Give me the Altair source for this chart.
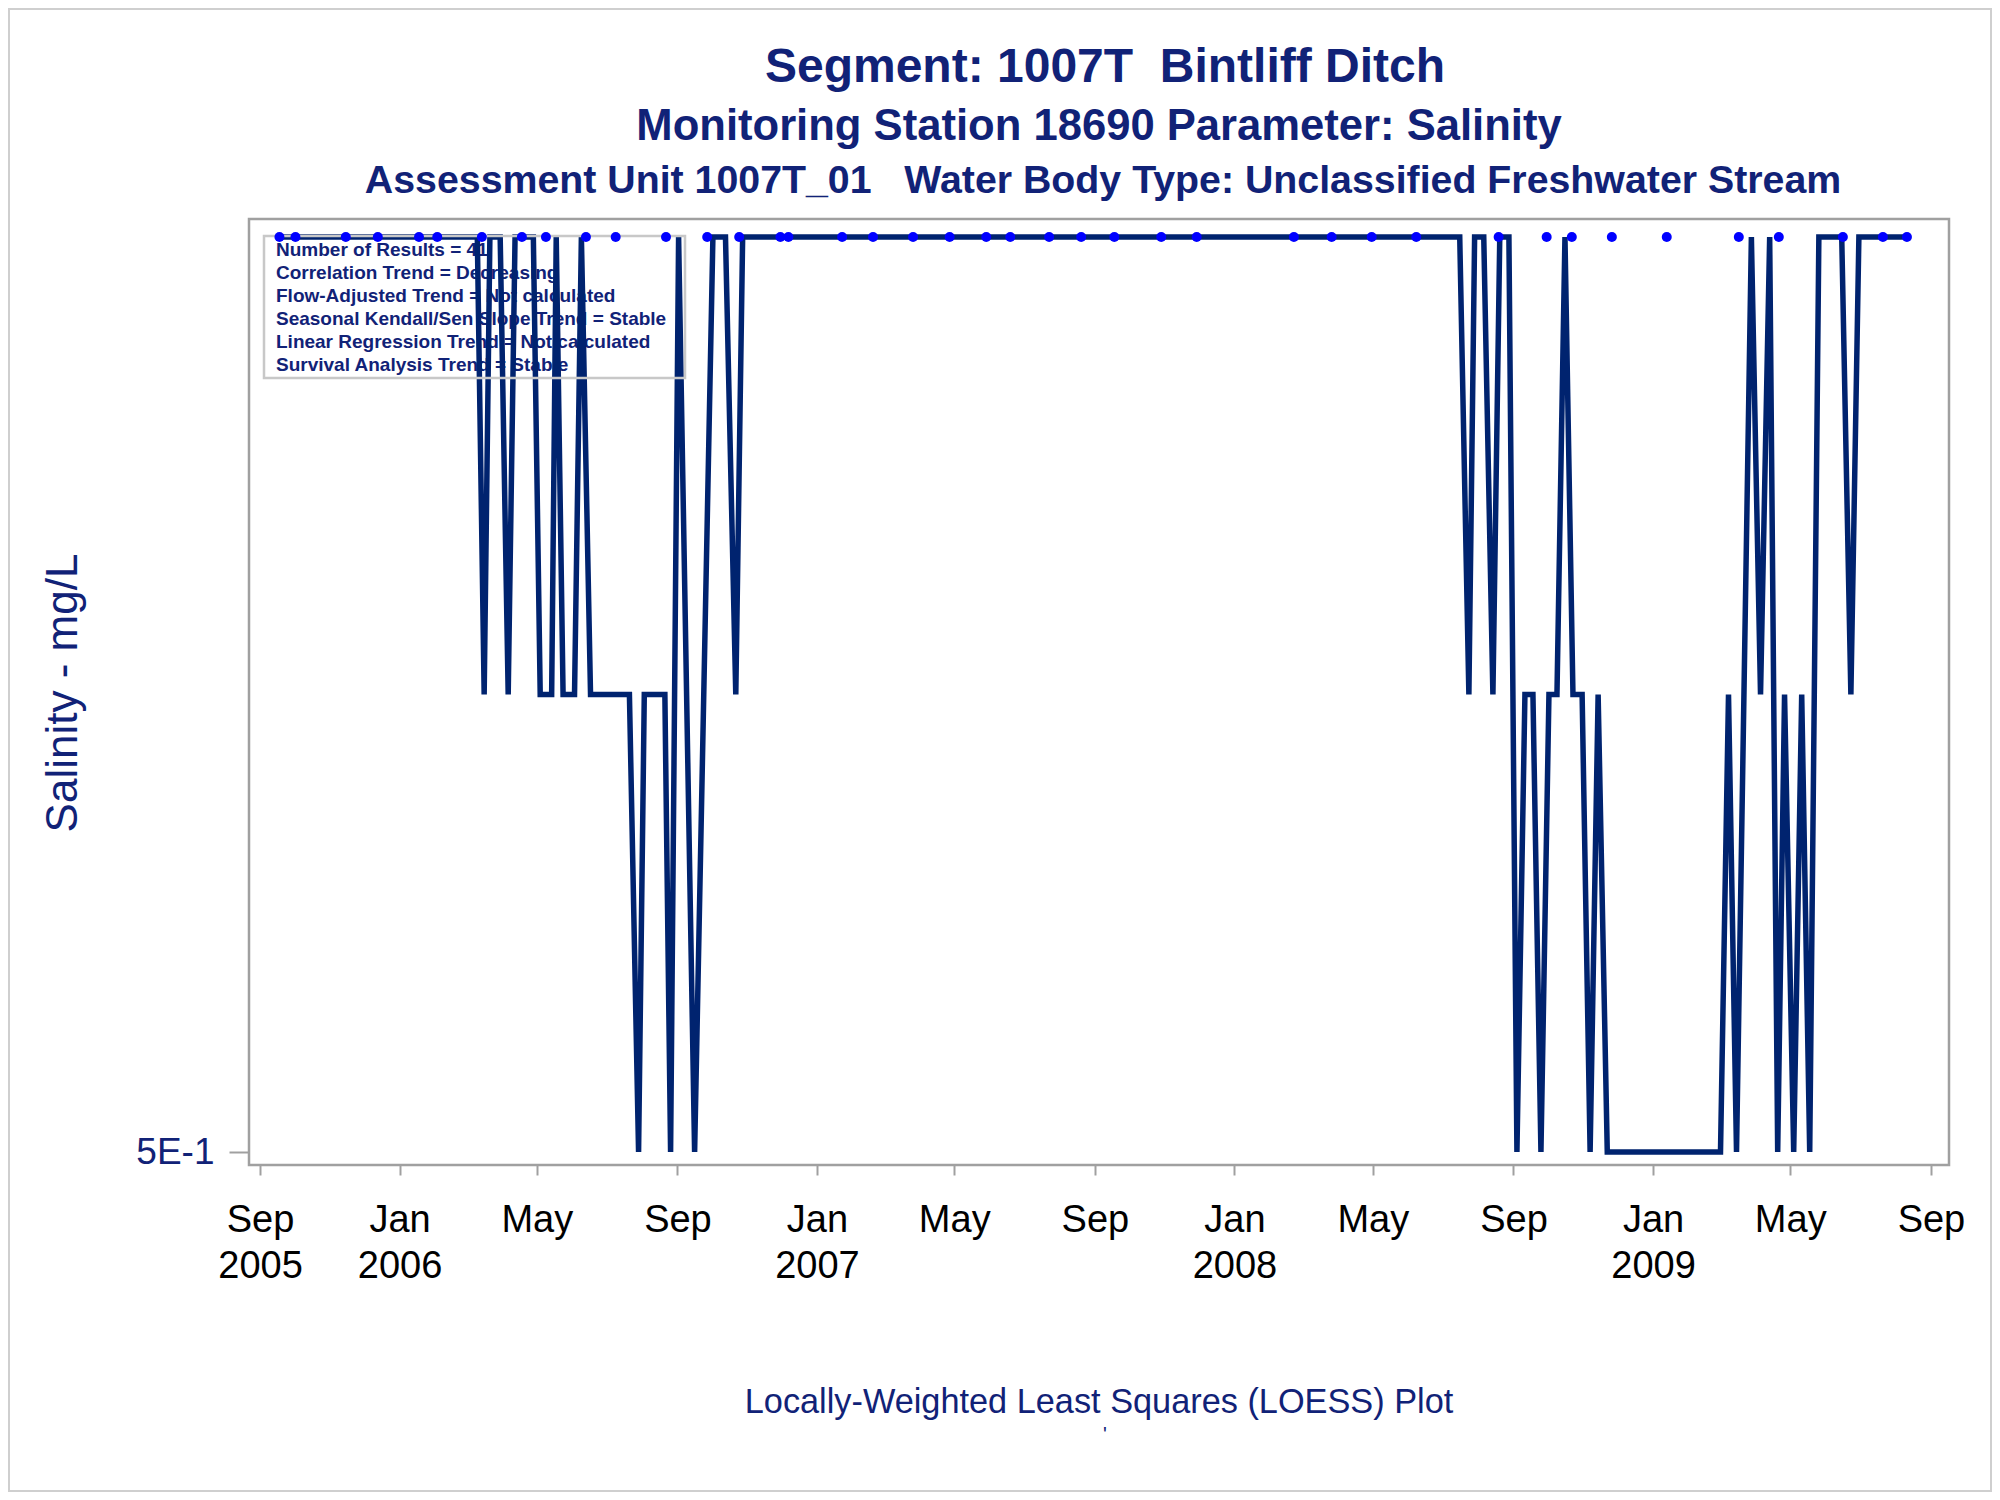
import altair as alt
import pandas as pd

# ---------------- data ----------------
title_lines = [
    "Segment: 1007T\u00a0\u00a0Bintliff Ditch",
    "Monitoring Station 18690 Parameter: Salinity",
    "Assessment Unit 1007T_01\u00a0\u00a0\u00a0Water Body Type: Unclassified Freshwater Stream",
]
stats_lines = [
    "Number of Results = 41",
    "Correlation Trend = Decreasing",
    "Flow-Adjusted Trend = Not calculated",
    "Seasonal Kendall/Sen Slope Trend = Stable",
    "Linear Regression Trend = Not calculated",
    "Survival Analysis Trend = Stable",
]
y_title = "Salinity - mg/L"
footnote = "Locally-Weighted Least Squares (LOESS) Plot"
footnote2 = "'"

# sampled results (blue dots)
sample_dates = [
    "2005-09-18", "2005-10-02", "2005-11-15", "2005-12-13", "2006-01-18",
    "2006-02-03", "2006-03-14", "2006-04-18", "2006-05-09", "2006-06-13",
    "2006-07-09", "2006-08-22", "2006-09-27", "2006-10-25", "2006-11-30",
    "2006-12-07", "2007-01-23", "2007-02-19", "2007-03-26", "2007-04-27",
    "2007-05-29", "2007-06-19", "2007-07-23", "2007-08-20", "2007-09-18",
    "2007-10-29", "2007-11-29", "2008-02-22", "2008-03-26", "2008-04-30",
    "2008-06-08", "2008-08-19", "2008-09-30", "2008-10-22", "2008-11-26",
    "2009-01-13", "2009-03-17", "2009-04-21", "2009-06-16", "2009-07-21",
    "2009-08-11",
]
sample_values = [
    1.0, 1.0, 1.0, 1.0, 1.0, 1.0, 1.0, 1.0, 1.0, 1.0,
    1.0, 1.0, 1.0, 1.0, 1.0, 1.0, 1.0, 1.0, 1.0, 1.0,
    1.0, 1.0, 1.0, 1.0, 1.0, 1.0, 1.0, 1.0, 1.0, 1.0,
    1.0, 1.0, 1.0, 1.0, 1.0, 1.0, 1.0, 1.0, 1.0, 1.0,
    1.0,
]

# LOESS curve vertices
loess_dates = [
    "2005-09-18", "2006-03-10", "2006-03-16", "2006-03-21", "2006-03-30",
    "2006-04-06", "2006-04-12", "2006-04-28", "2006-05-04", "2006-05-14",
    "2006-05-18", "2006-05-24", "2006-06-03", "2006-06-09", "2006-06-17",
    "2006-07-21", "2006-07-29", "2006-08-03", "2006-08-21", "2006-08-26",
    "2006-09-02", "2006-09-16", "2006-10-02", "2006-10-13", "2006-10-22",
    "2006-10-28", "2008-07-16", "2008-07-24", "2008-07-29", "2008-08-06",
    "2008-08-14", "2008-08-20", "2008-08-28", "2008-09-04", "2008-09-11",
    "2008-09-18", "2008-09-25", "2008-10-02", "2008-10-09", "2008-10-16",
    "2008-10-23", "2008-10-31", "2008-11-07", "2008-11-14", "2008-11-22",
    "2009-03-01", "2009-03-08", "2009-03-15", "2009-03-28", "2009-04-05",
    "2009-04-13", "2009-04-20", "2009-04-26", "2009-05-04", "2009-05-11",
    "2009-05-18", "2009-05-26", "2009-06-15", "2009-06-23", "2009-06-30",
    "2009-08-11",
]
loess_values = [
    1.0, 1.0, 0.75, 1.0, 1.0,
    0.75, 1.0, 1.0, 0.75, 0.75,
    1.0, 0.75, 0.75, 1.0, 0.75,
    0.75, 0.5, 0.75, 0.75, 0.5,
    1.0, 0.5, 1.0, 1.0, 0.75,
    1.0, 1.0, 0.75, 1.0, 1.0,
    0.75, 1.0, 1.0, 0.5, 0.75,
    0.75, 0.5, 0.75, 0.75, 1.0,
    0.75, 0.75, 0.5, 0.75, 0.5,
    0.5, 0.75, 0.5, 1.0, 0.75,
    1.0, 0.5, 0.75, 0.5, 0.75,
    0.5, 1.0, 1.0, 0.75, 1.0,
    1.0,
]

y_tick_values = [0.5]
x_tick_dates = [
    (2005, 9), (2006, 1), (2006, 5), (2006, 9), (2007, 1), (2007, 5), (2007, 9),
    (2008, 1), (2008, 5), (2008, 9), (2009, 1), (2009, 5), (2009, 9),
]

# ---------------- styling ----------------
FONT = "Liberation Sans"
NAVY = "#112277"
LINE = "#00236f"
DOT = "#0000ff"
FRAME = "#a0a0a0"
W, H = 1700, 946

line_df = pd.DataFrame({"date": loess_dates, "value": loess_values})
pts_df = pd.DataFrame({"date": sample_dates, "value": sample_values})
one = pd.DataFrame({"k": [0]})

x_scale = alt.Scale(
    type="utc",
    domain=[
        alt.DateTime(year=2005, month=8, date=22, hours=9, utc=True),
        alt.DateTime(year=2009, month=9, date=16, hours=19, utc=True),
    ],
)
y_scale = alt.Scale(domain=[0.4929, 1.0098], nice=False, zero=False)

label_expr = (
    "(utcmonth(datum.value) == 0 || utcyear(datum.value) == 2005) ? "
    "[utcFormat(datum.value, '%b'), utcFormat(datum.value, '%Y')] : "
    "utcFormat(datum.value, '%b')"
)

x_axis = alt.Axis(
    values=[alt.DateTime(year=y, month=m, date=1, utc=True) for (y, m) in x_tick_dates],
    labelExpr=label_expr,
    title=None,
    grid=False,
    domain=False,
    tickColor=FRAME,
    tickSize=10,
    tickWidth=2,
    labelFont=FONT,
    labelFontSize=38,
    labelColor="black",
    labelPadding=26,
    labelBaseline="top",
    labelLineHeight=46,
    labelFlush=False,
    labelOverlap=False,
    labelBound=False,
)
y_axis = alt.Axis(
    values=y_tick_values,
    labelExpr="'5E-1'",
    title=None,
    grid=False,
    domain=False,
    tickColor=FRAME,
    tickSize=20,
    tickWidth=2,
    labelFont=FONT,
    labelFontSize=37,
    labelColor=NAVY,
    labelPadding=15,
)

x_enc = alt.X("date:T", scale=x_scale, axis=x_axis)
y_enc = alt.Y("value:Q", scale=y_scale, axis=y_axis)

line = alt.Chart(line_df).mark_line(color=LINE, strokeWidth=5.5).encode(x=x_enc, y=y_enc)
dots = alt.Chart(pts_df).mark_circle(color=DOT, size=100, opacity=1).encode(x=x_enc, y=y_enc)

box = alt.Chart(one).mark_rect(fillOpacity=0, stroke="#c8c8c8", strokeWidth=2.5).encode(
    x=alt.value(15), x2=alt.value(436), y=alt.value(17), y2=alt.value(159)
)
stats = alt.Chart(one).mark_text(
    font=FONT, fontSize=19, fontWeight="bold", color=NAVY, align="left",
    baseline="alphabetic", lineHeight=23,
).encode(x=alt.value(27), y=alt.value(37), text=alt.value(stats_lines))

t1 = alt.Chart(one).mark_text(
    font=FONT, fontSize=48, fontWeight="bold", color=NAVY, align="center", baseline="alphabetic"
).encode(x=alt.value(W / 2 + 6), y=alt.value(-137), text=alt.value(title_lines[0]))
t2 = alt.Chart(one).mark_text(
    font=FONT, fontSize=43.6, fontWeight="bold", color=NAVY, align="center", baseline="alphabetic"
).encode(x=alt.value(W / 2), y=alt.value(-79), text=alt.value(title_lines[1]))
t3 = alt.Chart(one).mark_text(
    font=FONT, fontSize=39.3, fontWeight="bold", color=NAVY, align="center", baseline="alphabetic"
).encode(x=alt.value(W / 2 + 4), y=alt.value(-26), text=alt.value(title_lines[2]))

ytitle = alt.Chart(one).mark_text(
    font=FONT, fontSize=44, color=NAVY, align="center", baseline="middle", angle=270
).encode(x=alt.value(-185), y=alt.value(474), text=alt.value(y_title))

foot = alt.Chart(one).mark_text(
    font=FONT, fontSize=34.3, color=NAVY, align="center", baseline="alphabetic"
).encode(x=alt.value(W / 2), y=alt.value(1194), text=alt.value(footnote))
foot2 = alt.Chart(one).mark_text(
    font=FONT, fontSize=20, color=NAVY, align="center", baseline="alphabetic"
).encode(x=alt.value(856), y=alt.value(1222), text=alt.value(footnote2))

border = alt.Chart(one).mark_rect(fillOpacity=0, stroke="#cfcfcf", strokeWidth=2).encode(
    x=alt.value(-240), x2=alt.value(W + 42), y=alt.value(-210), y2=alt.value(H + 326)
)

chart = alt.layer(
    border, t1, t2, t3, ytitle, foot, foot2, stats, line, box, dots
).properties(
    width=W,
    height=H,
    padding={"left": 241, "top": 211, "right": 43, "bottom": 327},
    autosize=alt.AutoSizeParams(type="none"),
    background="white",
).configure_view(stroke=FRAME, strokeWidth=2.5)

chart.save("out.html", embed_options={"renderer": "svg", "actions": False})
